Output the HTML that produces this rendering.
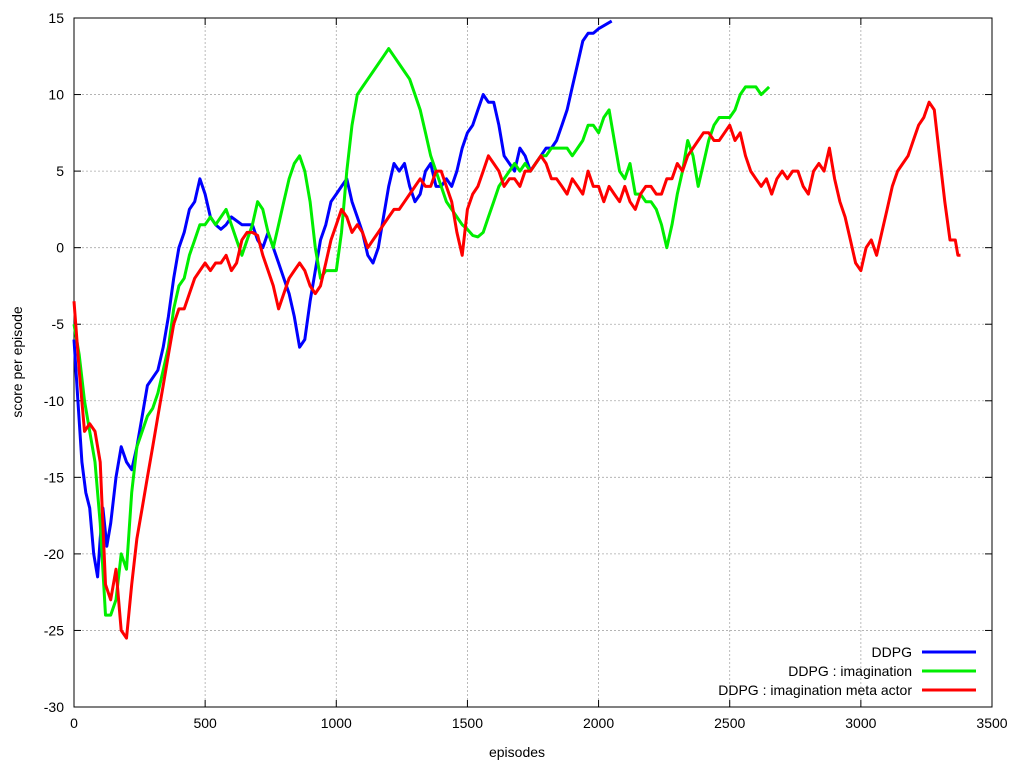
<!DOCTYPE html>
<html><head><meta charset="utf-8"><style>
body{margin:0;background:#fff}
svg text{font-family:"Liberation Sans",Arial,sans-serif;font-size:14px;fill:#000}
</style></head><body>
<svg id="chart" width="1024" height="768">
<g id="grid"></g>
<g id="axes"></g>
<g id="series"></g>
<text x="517" y="757" text-anchor="middle">episodes</text>
<text transform="translate(22,362) rotate(-90)" text-anchor="middle">score per episode</text>
<g id="legend"></g>
</svg>
<script>
const xTicks=[0,500,1000,1500,2000,2500,3000,3500];
const yTicks=[-30,-25,-20,-15,-10,-5,0,5,10,15];
const seriesNames=["DDPG","DDPG : imagination","DDPG : imagination meta actor"];
const seriesColors=["#0000ff","#00ee00","#ff0000"];
const ddpgX=[0,15,30,45,60,75,90,100,110,125,140,160,180,200,220,240,260,280,300,320,340,360,380,400,420,440,460,480,500,520,540,560,580,600,640,680,700,720,740,760,780,800,820,840,860,880,900,920,940,960,980,1000,1020,1040,1060,1080,1100,1120,1140,1160,1180,1200,1220,1240,1260,1280,1300,1320,1340,1360,1380,1400,1420,1440,1460,1480,1500,1520,1540,1560,1580,1600,1620,1640,1660,1680,1700,1720,1740,1760,1780,1800,1820,1840,1860,1880,1900,1920,1940,1960,1980,2000,2020,2050];
const ddpgY=[-6,-10,-14,-16,-17,-20,-21.5,-19,-17,-19.5,-18,-15,-13,-14,-14.5,-13,-11,-9,-8.5,-8,-6.5,-4.5,-2,0,1,2.5,3,4.5,3.5,2,1.5,1.2,1.5,2,1.5,1.5,0.5,0,1,0,-1,-2,-3,-4.5,-6.5,-6,-3.5,-1.5,0.5,1.5,3,3.5,4,4.5,3,2,1,-0.5,-1,0,2,4,5.5,5,5.5,4,3,3.5,5,5.5,4,4,4.5,4,5,6.5,7.5,8,9,10,9.5,9.5,8,6,5.5,5,6.5,6,5,5.5,6,6.5,6.5,7,8,9,10.5,12,13.5,14,14,14.3,14.5,14.8];
const imagX=[0,20,40,60,80,100,120,140,160,180,200,220,240,260,280,300,320,340,360,380,400,420,440,460,480,500,520,540,560,580,600,620,640,660,680,700,720,740,760,780,800,820,840,860,880,900,920,940,960,980,1000,1020,1040,1060,1080,1100,1120,1140,1160,1180,1200,1220,1240,1260,1280,1300,1320,1340,1360,1380,1400,1420,1440,1460,1480,1500,1520,1540,1560,1580,1600,1620,1640,1660,1680,1700,1720,1740,1760,1780,1800,1820,1840,1860,1880,1900,1920,1940,1960,1980,2000,2020,2040,2060,2080,2100,2120,2140,2160,2180,2200,2220,2240,2260,2280,2300,2320,2340,2360,2380,2400,2420,2440,2460,2480,2500,2520,2540,2560,2580,2600,2620,2650];
const imagY=[-5,-7,-10,-12,-14,-18,-24,-24,-23,-20,-21,-16,-13,-12,-11,-10.5,-9.5,-8,-6.5,-4,-2.5,-2,-0.5,0.5,1.5,1.5,2,1.5,2,2.5,1.5,0.5,-0.5,0.5,1.5,3,2.5,1,0,1.5,3,4.5,5.5,6,5,3,0,-2,-1.5,-1.5,-1.5,1,5,8,10,10.5,11,11.5,12,12.5,13,12.5,12,11.5,11,10,9,7.5,6,5,4,3,2.5,2,1.5,1.2,0.8,0.7,1,2,3,4,4.5,5,5.5,5,5.5,5,5.5,6,6,6.5,6.5,6.5,6.5,6,6.5,7,8,8,7.5,8.5,9,7,5,4.5,5.5,3.5,3.5,3,3,2.5,1.5,0,1.5,3.5,5,7,6,4,5.5,7,8,8.5,8.5,8.5,9,10,10.5,10.5,10.5,10,10.5];
const metaX=[0,20,40,60,80,100,120,140,160,180,200,220,240,260,280,300,320,340,360,380,400,420,440,460,480,500,520,540,560,580,600,620,640,660,680,700,720,740,760,780,800,820,840,860,880,900,920,940,960,980,1000,1020,1040,1060,1080,1100,1120,1140,1160,1180,1200,1220,1240,1260,1280,1300,1320,1340,1360,1380,1400,1420,1440,1460,1480,1500,1520,1540,1560,1580,1600,1620,1640,1660,1680,1700,1720,1740,1760,1780,1800,1820,1840,1860,1880,1900,1920,1940,1960,1980,2000,2020,2040,2060,2080,2100,2120,2140,2160,2180,2200,2220,2240,2260,2280,2300,2320,2340,2360,2380,2400,2420,2440,2460,2480,2500,2520,2540,2560,2580,2600,2620,2640,2660,2680,2700,2720,2740,2760,2780,2800,2820,2840,2860,2880,2900,2920,2940,2960,2980,3000,3020,3040,3060,3080,3100,3120,3140,3160,3180,3200,3220,3240,3260,3280,3300,3320,3340,3360,3370,3380];
const metaY=[-3.5,-8,-12,-11.5,-12,-14,-22,-23,-21,-25,-25.5,-22,-19,-17,-15,-13,-11,-9,-7,-5,-4,-4,-3,-2,-1.5,-1,-1.5,-1,-1,-0.5,-1.5,-1,0.5,1,1,0.8,-0.5,-1.5,-2.5,-4,-3,-2,-1.5,-1,-1.5,-2.5,-3,-2.5,-1,0.5,1.5,2.5,2,1,1.5,1,0,0.5,1,1.5,2,2.5,2.5,3,3.5,4,4.5,4,4,5,5,4,3,1,-0.5,2.5,3.5,4,5,6,5.5,5,4,4.5,4.5,4,5,5,5.5,6,5.5,4.5,4.5,4,3.5,4.5,4,3.5,5,4,4,3,4,3.5,3,4,3,2.5,3.5,4,4,3.5,3.5,4.5,4.5,5.5,5,6,6.5,7,7.5,7.5,7,7,7.5,8,7,7.5,6,5,4.5,4,4.5,3.5,4.5,5,4.5,5,5,4,3.5,5,5.5,5,6.5,4.5,3,2,0.5,-1,-1.5,0,0.5,-0.5,1,2.5,4,5,5.5,6,7,8,8.5,9.5,9,6,3,0.5,0.5,-0.5,-0.5];

const L=74,R=992,T=18,B=707;
const sx=v=>L+(v-0)/(3500-0)*(R-L);
const sy=v=>B-(v+30)/45*(B-T);
const NS="http://www.w3.org/2000/svg";
function mk(tag,attrs,parent){const e=document.createElementNS(NS,tag);for(const k in attrs)e.setAttribute(k,attrs[k]);parent.appendChild(e);return e;}
const grid=document.getElementById('grid'),axes=document.getElementById('axes');
xTicks.forEach(t=>{
  const x=sx(t);
  if(t>0&&t<3500){const g=mk('line',{x1:x,x2:x,y1:T,y2:B,stroke:'#aaa','stroke-dasharray':'2,2','stroke-width':0.8},grid);
  
  }
  mk('line',{x1:x,x2:x,y1:B,y2:B-7,stroke:'#000'},axes);
  mk('line',{x1:x,x2:x,y1:T,y2:T+7,stroke:'#000'},axes);
  const tx=mk('text',{x:x,y:B+21,'text-anchor':'middle'},axes);tx.textContent=t;
  
  
});
yTicks.forEach(t=>{
  const y=sy(t);
  if(t>-30&&t<15){const g=mk('line',{x1:L,x2:R,y1:y,y2:y,stroke:'#aaa','stroke-dasharray':'2,2','stroke-width':0.8},grid);
  
  }
  mk('line',{x1:L,x2:L+7,y1:y,y2:y,stroke:'#000'},axes);
  mk('line',{x1:R,x2:R-7,y1:y,y2:y,stroke:'#000'},axes);
  const tx=mk('text',{x:L-10,y:y+5,'text-anchor':'end'},axes);tx.textContent=t;
  
  
});
const fr=mk('rect',{x:L,y:T,width:R-L,height:B-T,fill:'none',stroke:'#000'},axes);


const ser=document.getElementById('series');
const allX=[ddpgX,imagX,metaX],allY=[ddpgY,imagY,metaY];
const keys=['ddpg-line','imagination-line','meta-actor-line'];
allX.forEach((xs,i)=>{
  const d=xs.map((x,j)=>(j?'L':'M')+sx(x).toFixed(1)+','+sy(allY[i][j]).toFixed(1)).join('');
  const p=mk('path',{d:d,fill:'none',stroke:seriesColors[i],'stroke-width':3,'stroke-linejoin':'round'},ser);
  
  
});
const leg=document.getElementById('legend');
seriesNames.forEach((n,i)=>{
  const y=652+i*19;
  const t=mk('text',{x:912,y:y+5,'text-anchor':'end'},leg);t.textContent=n;
  
  
  const l=mk('line',{x1:922,x2:976,y1:y,y2:y,stroke:seriesColors[i],'stroke-width':3},leg);
  
  
});
</script>
</body></html>
